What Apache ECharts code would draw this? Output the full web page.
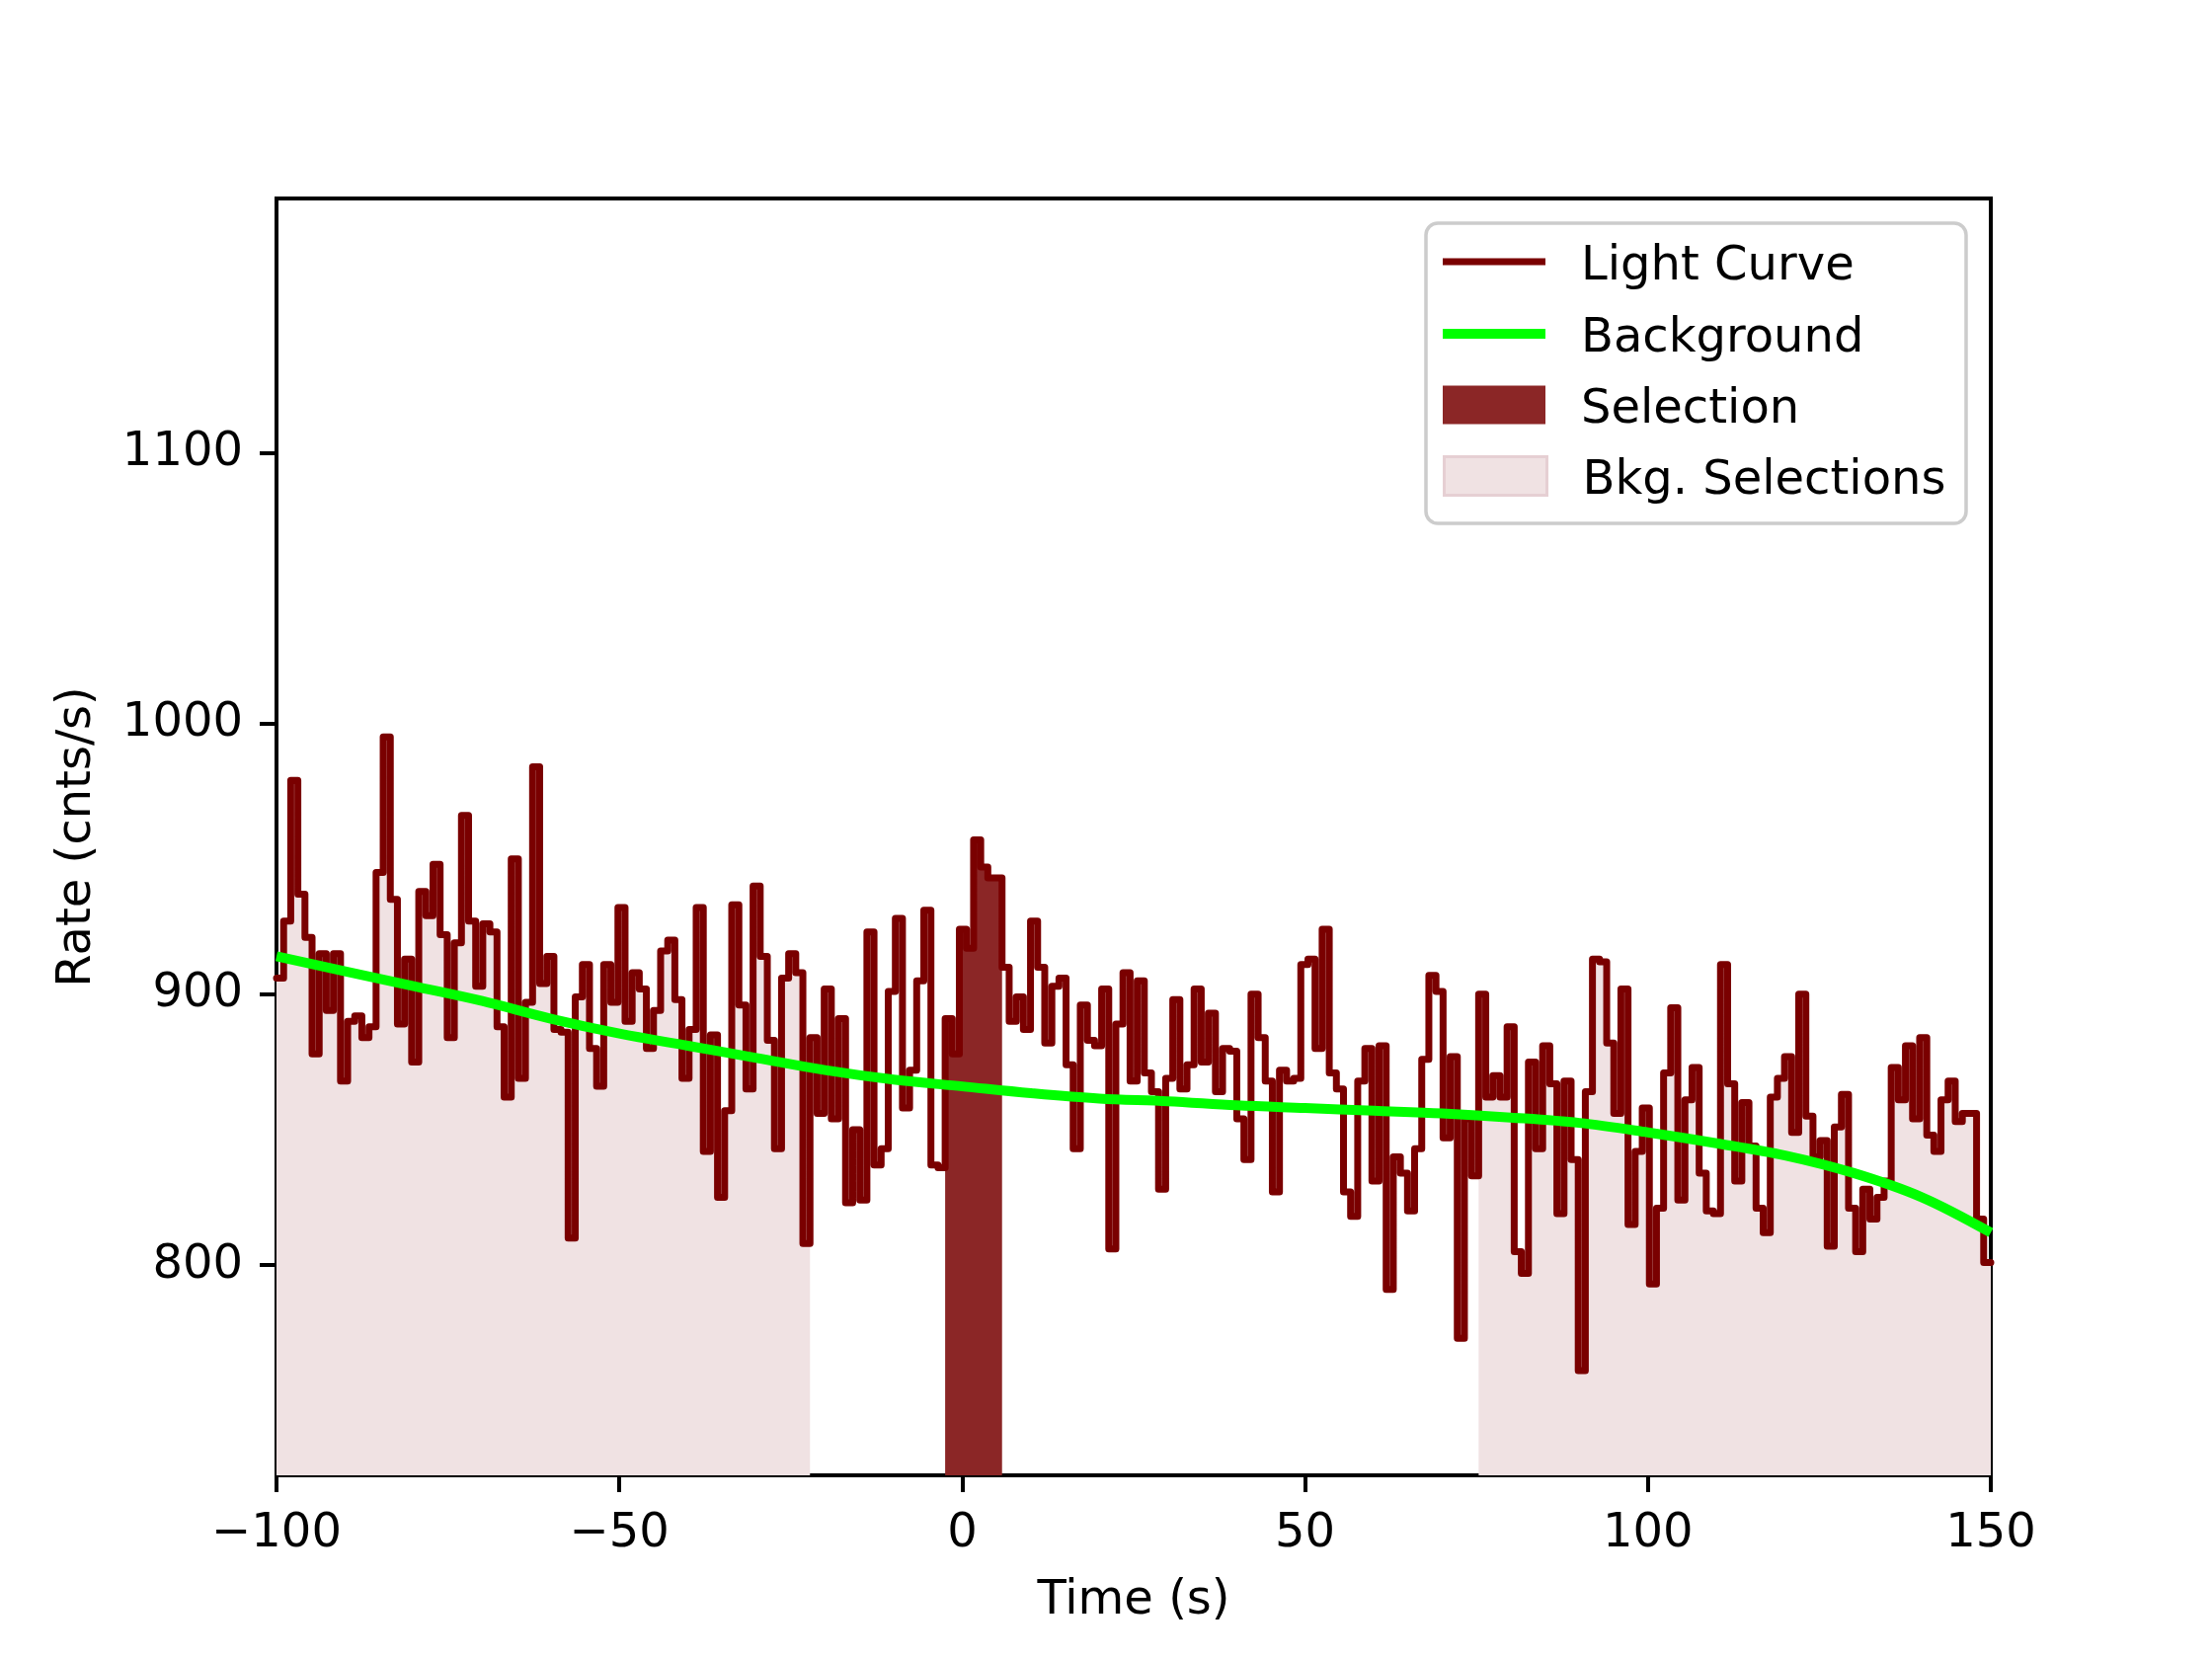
<!DOCTYPE html>
<html>
<head>
<meta charset="utf-8">
<script src="https://cdn.jsdelivr.net/npm/echarts@6/dist/echarts.min.js"></script>
<style>
  html, body { margin: 0; padding: 0; background: #fff; }
  #chart { width: 2240px; height: 1680px; }
</style>
</head>
<body>
<div id="chart"></div>
<script>
// light curve, one rate per time bin, read left to right (cnts/s)
const rates = [
  906, 927, 979, 937, 921, 878, 915, 894, 915, 868, 890, 892, 884, 888, 945, 995, 935, 889, 913, 875,
  938, 929, 948, 922, 884, 919, 966, 927, 903, 926, 923, 888, 862, 950, 869, 897, 984, 904, 914, 887, 886,
  810, 899, 911, 880, 866, 911, 897, 932, 890, 908, 902, 880, 894, 916, 920, 898, 869, 887, 932, 842,
  885, 825, 857, 933, 896, 865, 940, 914, 883, 843, 906, 915, 908, 808, 884, 856, 902, 854, 891, 823, 850,
  824, 923, 837, 843, 901, 928, 858, 872, 905, 931, 837, 836, 891, 878, 924, 917, 957, 947, 943, 943,
  910, 890, 899, 887, 927, 910, 882, 903, 906, 874, 843, 896, 883, 881, 902, 806, 889, 908, 868, 905,
  871, 864, 828, 869, 898, 865, 874, 902, 875, 893, 864, 880, 879, 854, 839, 900, 884, 868, 827, 872,
  868, 869, 911, 913, 880, 924, 871, 865, 827, 818, 868, 880, 831, 881, 791, 840, 834, 820, 843,
  876, 907, 901, 847, 877, 773, 854, 833, 900, 862, 870, 862, 888, 805, 797, 875, 843, 881, 867, 819,
  868, 839, 761, 864, 913, 912, 882, 856, 902, 815, 842, 858, 793, 821, 871, 895, 824, 861, 873, 834, 820,
  819, 911, 867, 831, 860, 844, 821, 812, 862, 869, 877, 849, 900, 855, 840, 846, 807, 851, 863, 821,
  805, 828, 817, 825, 831, 873, 861, 881, 854, 884, 848, 842, 861, 868, 853, 856, 856, 817, 801
];
const tStart = -100;
const tEnd = 150;

// background model
const bkgTimes = [-100, -90, -80, -70, -60, -50, -40, -30, -20, -10, 0, 10, 20, 30, 40, 50, 60, 70, 80, 90, 100, 110, 120, 130, 140, 150];
const bkgRates = [914, 908.5, 903, 897.5, 891, 885.5, 881, 876.5, 872, 868.5, 866, 863.5, 861.5, 860.5, 859, 858, 857, 856, 854.5, 852.5, 849, 845, 840.5, 834, 825, 812];

// selections (s)
const selRange = [-2.9, 5.4];
const bkgRanges = [[-100, -21.8], [74.9, 150]];

const yTicks = [800, 900, 1000, 1100];
const yMin = 722.4, yMax = 1193.8;

const binWidth = (tEnd - tStart) / rates.length;

// histogram outline: two points per bin, only bins whose centre is inside [lo, hi]
function histo(lo, hi) {
  const pts = [];
  rates.forEach(function (r, i) {
    const a = tStart + i * binWidth;
    const b = a + binWidth;
    const c = (a + b) / 2;
    if (c >= lo && c <= hi) {
      pts.push([a, r]);
      pts.push([b, r]);
    }
  });
  return pts;
}

const font = 'DejaVu Sans';
const lcColor = '#7a0000';
const selColor = '#8b2626';
const bkgFill = '#f0e2e3';

const chart = echarts.init(document.getElementById('chart'));

const series = [];
bkgRanges.forEach(function (rg) {
  series.push({
    name: 'Bkg. Selections',
    type: 'line',
    data: histo(rg[0], rg[1]),
    symbol: 'none',
    itemStyle: { color: bkgFill },
    lineStyle: { width: 0 },
    areaStyle: { color: bkgFill, opacity: 1, origin: 'start' },
    z: 1
  });
});
series.push({
  name: 'Selection',
  type: 'line',
  data: histo(selRange[0], selRange[1]),
  symbol: 'none',
  itemStyle: { color: selColor },
  lineStyle: { width: 0 },
  areaStyle: { color: selColor, opacity: 1, origin: 'start' },
  z: 2
});
series.push({
  name: 'Light Curve',
  type: 'line',
  data: histo(-1e9, 1e9),
  symbol: 'none',
  itemStyle: { color: lcColor },
  lineStyle: { color: lcColor, width: 7, join: 'round', cap: 'round' },
  z: 3
});
series.push({
  name: 'Background',
  type: 'line',
  data: bkgTimes.map(function (t, i) { return [t, bkgRates[i]]; }),
  symbol: 'none',
  smooth: 0.35,
  itemStyle: { color: '#00ff00' },
  lineStyle: { color: '#00ff00', width: 10 },
  z: 4
});

function legendRow(name, centerY, h, style) {
  return {
    data: [{ name: name, icon: 'rect', itemStyle: style }],
    left: 1461,
    top: centerY - 31,
    padding: 0,
    z: 10,
    itemWidth: 104,
    itemHeight: h,
    selectedMode: false,
    formatter: '{n|{name}}',
    textStyle: {
      rich: {
        n: { fontSize: 48, fontFamily: font, color: '#000', lineHeight: 56, padding: [12, 0, 0, 31] }
      }
    }
  };
}

chart.setOption({
  animation: false,
  backgroundColor: '#fff',
  grid: { left: 280, top: 201, width: 1736, height: 1293, show: true, borderColor: '#000', borderWidth: 4 },
  xAxis: {
    type: 'value',
    min: tStart,
    max: tEnd,
    interval: 50,
    name: 'Time (s)',
    nameLocation: 'middle',
    nameGap: 104,
    nameTextStyle: { fontSize: 48, fontFamily: font, color: '#000' },
    axisLine: { show: true, onZero: false, lineStyle: { color: '#000', width: 4 } },
    axisTick: { show: true, length: 17, lineStyle: { color: '#000', width: 4 } },
    axisLabel: {
      fontSize: 48, fontFamily: font, color: '#000', margin: 36,
      formatter: function (v) { return String(v).replace('-', '\u2212'); }
    },
    splitLine: { show: false }
  },
  yAxis: {
    type: 'value',
    min: yMin,
    max: yMax,
    name: 'Rate (cnts/s)',
    nameLocation: 'middle',
    nameGap: 177,
    nameTextStyle: { fontSize: 48, fontFamily: font, color: '#000' },
    axisLine: { show: true, onZero: false, lineStyle: { color: '#000', width: 4 } },
    axisTick: { show: true, length: 17, customValues: yTicks, lineStyle: { color: '#000', width: 4 } },
    axisLabel: {
      fontSize: 48, fontFamily: font, color: '#000', margin: 34, customValues: yTicks,
      formatter: function (v) { return String(v); }
    },
    splitLine: { show: false }
  },
  legend: [
    legendRow('Light Curve', 266, 7, { color: lcColor, borderWidth: 0 }),
    legendRow('Background', 339, 10, { color: '#00ff00', borderWidth: 0 }),
    legendRow('Selection', 411, 39, { color: selColor, borderWidth: 0 }),
    legendRow('Bkg. Selections', 483, 39, { color: bkgFill, borderColor: '#e6cfd3', borderWidth: 3 })
  ],
  graphic: [{
    type: 'rect',
    shape: { x: 1444, y: 226, width: 547, height: 304, r: 12 },
    style: { fill: 'rgba(255,255,255,0.8)', stroke: '#cccccc', lineWidth: 3.5 },
    z: 1
  }],
  series: series
});
</script>
</body>
</html>
